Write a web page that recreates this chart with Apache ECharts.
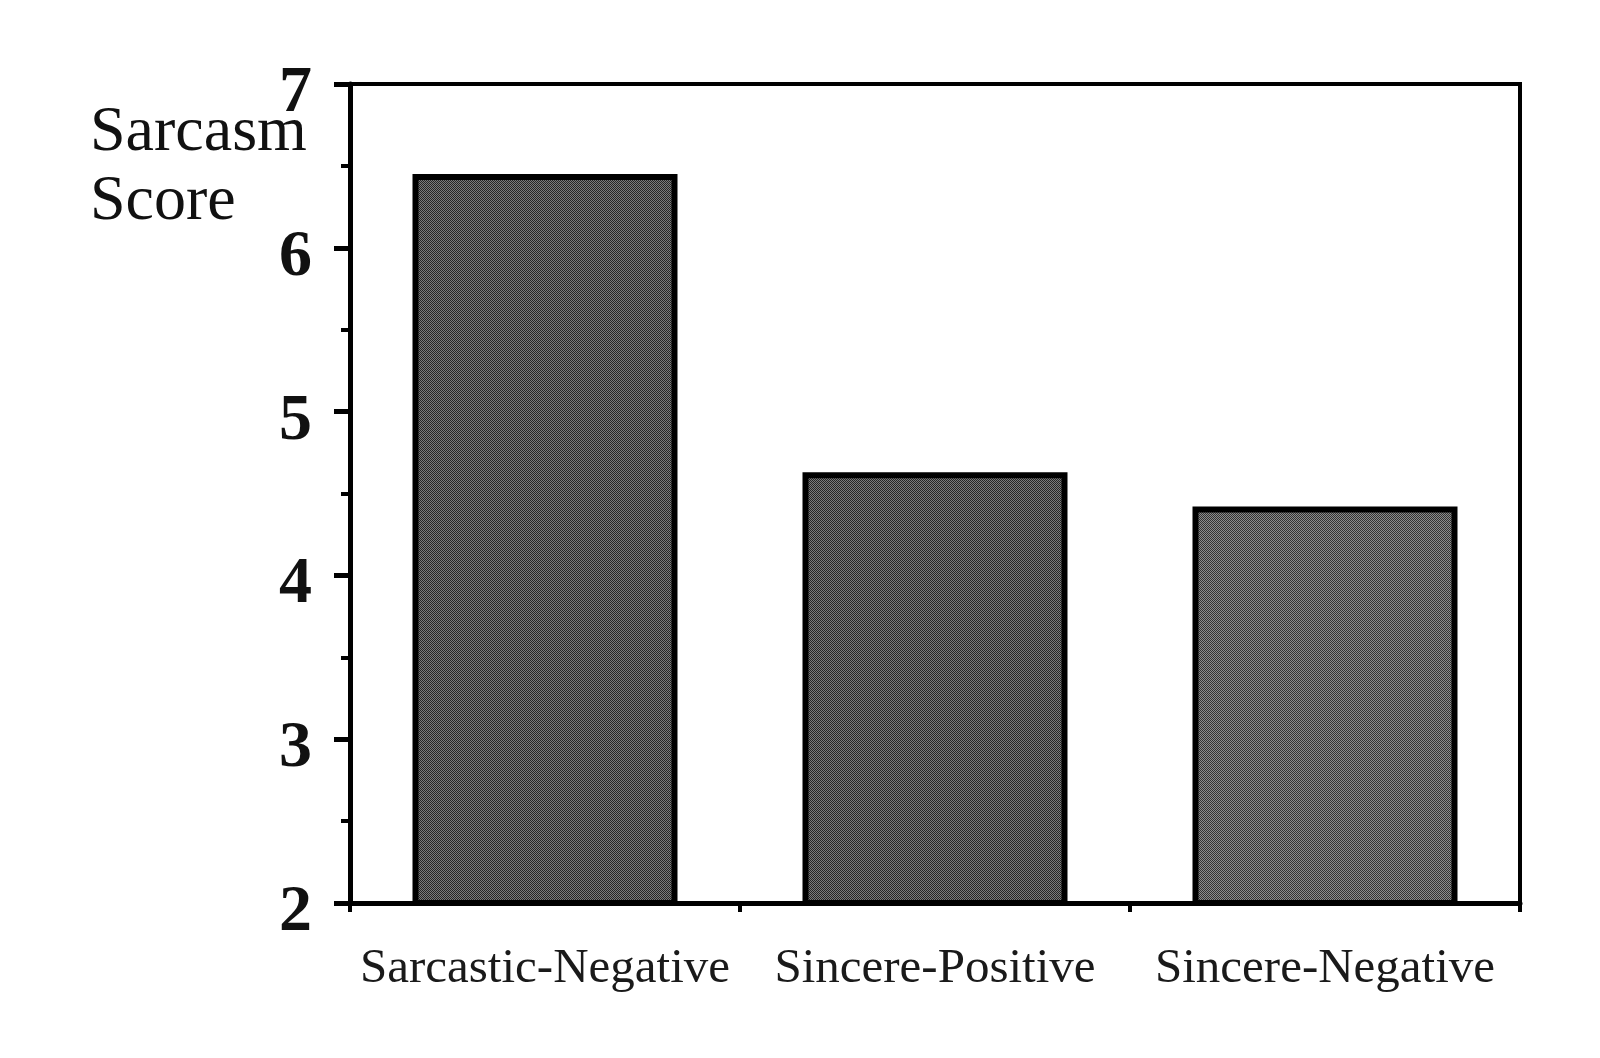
<!DOCTYPE html>
<html>
<head>
<meta charset="utf-8">
<title>Sarcasm Score</title>
<script src="https://cdn.jsdelivr.net/npm/echarts@6/dist/echarts.min.js"></script>
<style>
  html, body { margin: 0; padding: 0; background: #fff; }
  #chart { width: 1600px; height: 1058px; }
</style>
</head>
<body>
<div id="chart"></div>
<script>
// Datos
const categories = ['Sarcastic-Negative', 'Sincere-Positive', 'Sincere-Negative'];
const scores = [6.45, 4.63, 4.42];
const yMin = 2;
const yMax = 7;

// Trama punteada para el relleno de las barras (como la impresion original)
function makeStipple(dark, light) {
  const c = document.createElement('canvas');
  c.width = 4;
  c.height = 4;
  const ctx = c.getContext('2d');
  ctx.fillStyle = light;
  ctx.fillRect(0, 0, 4, 4);
  ctx.fillStyle = dark;
  for (let y = 0; y < 4; y++) {
    for (let x = 0; x < 4; x++) {
      if ((x + y) % 2 === 0) ctx.fillRect(x, y, 1, 1);
    }
  }
  return { image: c, repeat: 'repeat' };
}

const fills = [
  makeStipple('#262626', '#7c7c7c'),
  makeStipple('#262626', '#7c7c7c'),
  makeStipple('#333333', '#8c8c8c')
];

const serif = '"Liberation Serif", "DejaVu Serif", serif';

const chart = echarts.init(document.getElementById('chart'));

const option = {
  backgroundColor: '#fff',
  animation: false,
  title: {
    text: 'Sarcasm\nScore',
    left: 85,
    top: 94,
    textStyle: {
      fontFamily: serif,
      fontSize: 64,
      fontWeight: 'normal',
      lineHeight: 69,
      color: '#111'
    }
  },
  grid: {
    left: 350,
    right: 80,
    top: 84,
    bottom: 155,
    show: true,
    borderColor: '#000',
    borderWidth: 4,
    backgroundColor: 'transparent'
  },
  xAxis: {
    type: 'category',
    data: categories,
    boundaryGap: true,
    axisLine: { lineStyle: { color: '#000', width: 5 } },
    axisTick: { show: true, interval: 0, length: 9, lineStyle: { color: '#000', width: 4 } },
    axisLabel: {
      interval: 0,
      fontFamily: serif,
      fontSize: 49,
      color: '#1a1a1a',
      margin: 42
    },
    splitLine: { show: false }
  },
  yAxis: {
    type: 'value',
    min: yMin,
    max: yMax,
    interval: 1,
    axisLine: { show: true, lineStyle: { color: '#000', width: 5 } },
    axisTick: { show: true, length: 16, lineStyle: { color: '#000', width: 5 } },
    minorTick: { show: true, splitNumber: 2, length: 9, lineStyle: { color: '#000', width: 4 } },
    axisLabel: {
      fontFamily: serif,
      fontSize: 66,
      fontWeight: 'bold',
      color: '#111',
      margin: 38,
      verticalAlign: 'top',
      lineHeight: 20
    },
    splitLine: { show: false }
  },
  series: [
    {
      type: 'bar',
      barWidth: 265,
      data: scores.map((v, i) => ({
        value: v,
        itemStyle: { color: fills[i] }
      })),
      itemStyle: {
        borderColor: '#000',
        borderWidth: 6
      }
    }
  ]
};

chart.setOption(option);
</script>
</body>
</html>
